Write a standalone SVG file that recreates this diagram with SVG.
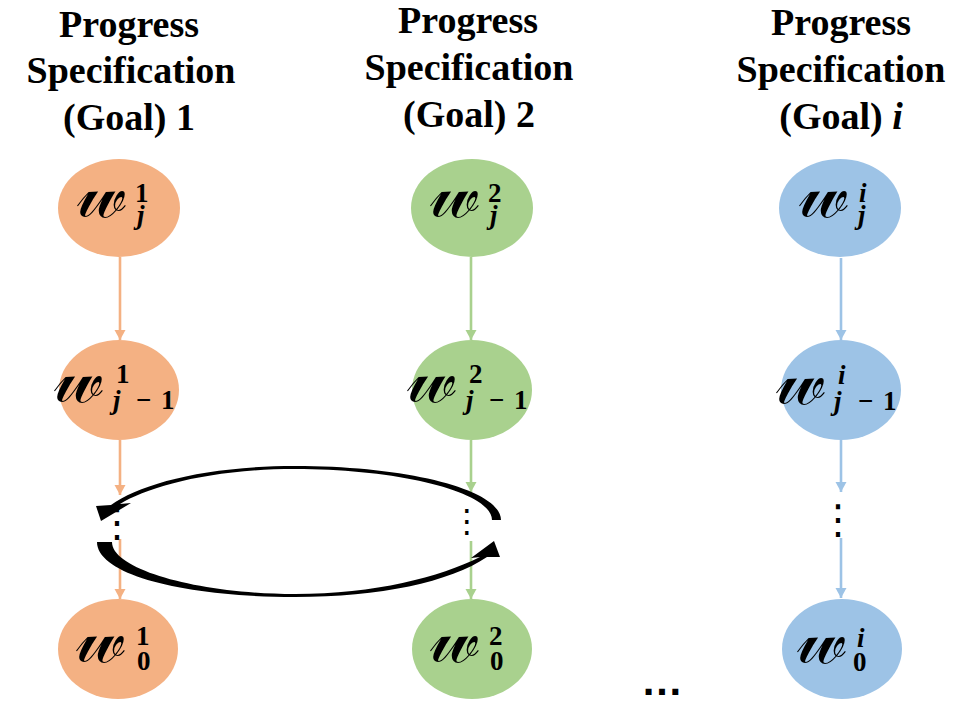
<svg xmlns="http://www.w3.org/2000/svg" width="967" height="719" viewBox="0 0 967 719">
<style>
.title{font-family:"Liberation Serif","Times New Roman",serif;font-weight:bold;font-size:38px;fill:#000;text-anchor:middle}
.w{font-family:"DejaVu Serif","DejaVu Sans",serif;font-size:72px;font-weight:normal;font-style:normal}
.sc{font-family:"Liberation Serif",serif;font-weight:bold;font-size:27px}
.it{font-style:italic}
.lab{fill:#000}
.dots{font-family:"DejaVu Sans",sans-serif;fill:#000}
.o{fill:#F4B183}.g{fill:#A9D18E}.b{fill:#9DC3E6}
.lo{stroke:#F4B183;stroke-width:2.6;fill:none}
.lg{stroke:#A9D18E;stroke-width:2.6;fill:none}
.lb{stroke:#9DC3E6;stroke-width:2.6;fill:none}
</style>
<defs>
<marker id="mo" markerUnits="userSpaceOnUse" markerWidth="12" markerHeight="12" refX="10" refY="5.5" orient="auto"><path d="M0,0 L10,5.5 L0,11 z" fill="#F4B183"/></marker>
<marker id="mg" markerUnits="userSpaceOnUse" markerWidth="12" markerHeight="12" refX="10" refY="5.5" orient="auto"><path d="M0,0 L10,5.5 L0,11 z" fill="#A9D18E"/></marker>
<marker id="mb" markerUnits="userSpaceOnUse" markerWidth="12" markerHeight="12" refX="10" refY="5.5" orient="auto"><path d="M0,0 L10,5.5 L0,11 z" fill="#9DC3E6"/></marker>
</defs>
<rect width="967" height="719" fill="#fff"/>

<g id="titles">
<text class="title" x="129" y="37">Progress</text>
<text class="title" x="131" y="83">Specification</text>
<text class="title" x="129" y="130">(Goal) 1</text>
<text class="title" x="468" y="33">Progress</text>
<text class="title" x="469" y="80">Specification</text>
<text class="title" x="469" y="127">(Goal) 2</text>
<text class="title" x="841" y="35">Progress</text>
<text class="title" x="841" y="82">Specification</text>
<text class="title" x="841" y="129">(Goal) <tspan class="it">i</tspan></text>
</g>

<g id="connectors">
<line class="lo" x1="120" y1="257" x2="120" y2="340" marker-end="url(#mo)"/>
<line class="lo" x1="120" y1="440" x2="120" y2="495" marker-end="url(#mo)"/>
<line class="lo" x1="120" y1="539" x2="120" y2="599" marker-end="url(#mo)"/>
<line class="lg" x1="471" y1="257" x2="471" y2="340" marker-end="url(#mg)"/>
<line class="lg" x1="471" y1="440" x2="471" y2="492" marker-end="url(#mg)"/>
<line class="lg" x1="471" y1="541" x2="471" y2="599" marker-end="url(#mg)"/>
<line class="lb" x1="841" y1="258" x2="841" y2="340" marker-end="url(#mb)"/>
<line class="lb" x1="841" y1="439" x2="841" y2="492" marker-end="url(#mb)"/>
<line class="lb" x1="841" y1="538" x2="841" y2="598" marker-end="url(#mb)"/>
</g>

<g id="ellipsis">
<text class="dots" x="97" y="536" font-size="40">⋮</text>
<text class="dots" x="451" y="532" font-size="32">⋮</text>
<text class="dots" x="818" y="533" font-size="40">⋮</text>
<text x="641" y="695" style="font-family:'Liberation Sans',sans-serif;font-weight:bold;font-size:42px">…</text>
</g>

<g id="n1top"><ellipse class="o" cx="119" cy="208" rx="61" ry="49"/>
<text class="lab"><tspan class="w" x="77" y="217">𝓌</tspan><tspan class="sc" x="135" y="202">1</tspan><tspan class="sc it" x="137" y="224">j</tspan></text></g>
<g id="n1mid"><ellipse class="o" cx="119" cy="390" rx="60" ry="50"/>
<text class="lab"><tspan class="w" x="54" y="402">𝓌</tspan><tspan class="sc" x="116" y="383">1</tspan><tspan class="sc it" x="113" y="409">j</tspan><tspan class="sc" x="136" y="409">−</tspan><tspan class="sc" x="161" y="409">1</tspan></text></g>
<g id="n1bot"><ellipse class="o" cx="118" cy="649" rx="60" ry="50"/>
<text class="lab"><tspan class="w" x="76" y="662">𝓌</tspan><tspan class="sc" x="136" y="645">1</tspan><tspan class="sc" x="137" y="670">0</tspan></text></g>

<g id="n2top"><ellipse class="g" cx="472" cy="208" rx="61" ry="49"/>
<text class="lab"><tspan class="w" x="430" y="217">𝓌</tspan><tspan class="sc" x="488" y="202">2</tspan><tspan class="sc it" x="490" y="224">j</tspan></text></g>
<g id="n2mid"><ellipse class="g" cx="472" cy="390" rx="60" ry="50"/>
<text class="lab"><tspan class="w" x="407" y="402">𝓌</tspan><tspan class="sc" x="469" y="383">2</tspan><tspan class="sc it" x="466" y="409">j</tspan><tspan class="sc" x="489" y="409">−</tspan><tspan class="sc" x="514" y="409">1</tspan></text></g>
<g id="n2bot"><ellipse class="g" cx="472" cy="649" rx="60" ry="50"/>
<text class="lab"><tspan class="w" x="430" y="662">𝓌</tspan><tspan class="sc" x="489" y="645">2</tspan><tspan class="sc" x="490" y="670">0</tspan></text></g>

<g id="n3top"><ellipse class="b" cx="840" cy="208" rx="61" ry="49"/>
<text class="lab"><tspan class="w" x="799" y="217">𝓌</tspan><tspan class="sc it" x="859" y="202">i</tspan><tspan class="sc it" x="858" y="224">j</tspan></text></g>
<g id="n3mid"><ellipse class="b" cx="841" cy="390" rx="60" ry="50"/>
<text class="lab"><tspan class="w" x="776" y="404">𝓌</tspan><tspan class="sc it" x="838" y="384">i</tspan><tspan class="sc it" x="834" y="410">j</tspan><tspan class="sc" x="858" y="410">−</tspan><tspan class="sc" x="883" y="410">1</tspan></text></g>
<g id="n3bot"><ellipse class="b" cx="842" cy="649" rx="60" ry="50"/>
<text class="lab"><tspan class="w" x="797" y="663">𝓌</tspan><tspan class="sc it" x="857" y="647">i</tspan><tspan class="sc" x="853" y="671">0</tspan></text></g>

<g id="cycle">
<path d="M501,520 C501,490 410,466 295,466 C205,466 140,484 111,505 L96,506 L101,521 L131,503 L120,504 C148,487 210,469 295,469 C400,469 492,492 492,520 Z" fill="#000"/>
<path d="M97,542 L112,542 C112,570 200,594 295,594 C375,594 440,577 480,557 L471,558 L494,541 L500,557 L487,557 C450,582 380,597 295,597 C185,597 97,575 97,542 Z" fill="#000"/>
</g>
</svg>
